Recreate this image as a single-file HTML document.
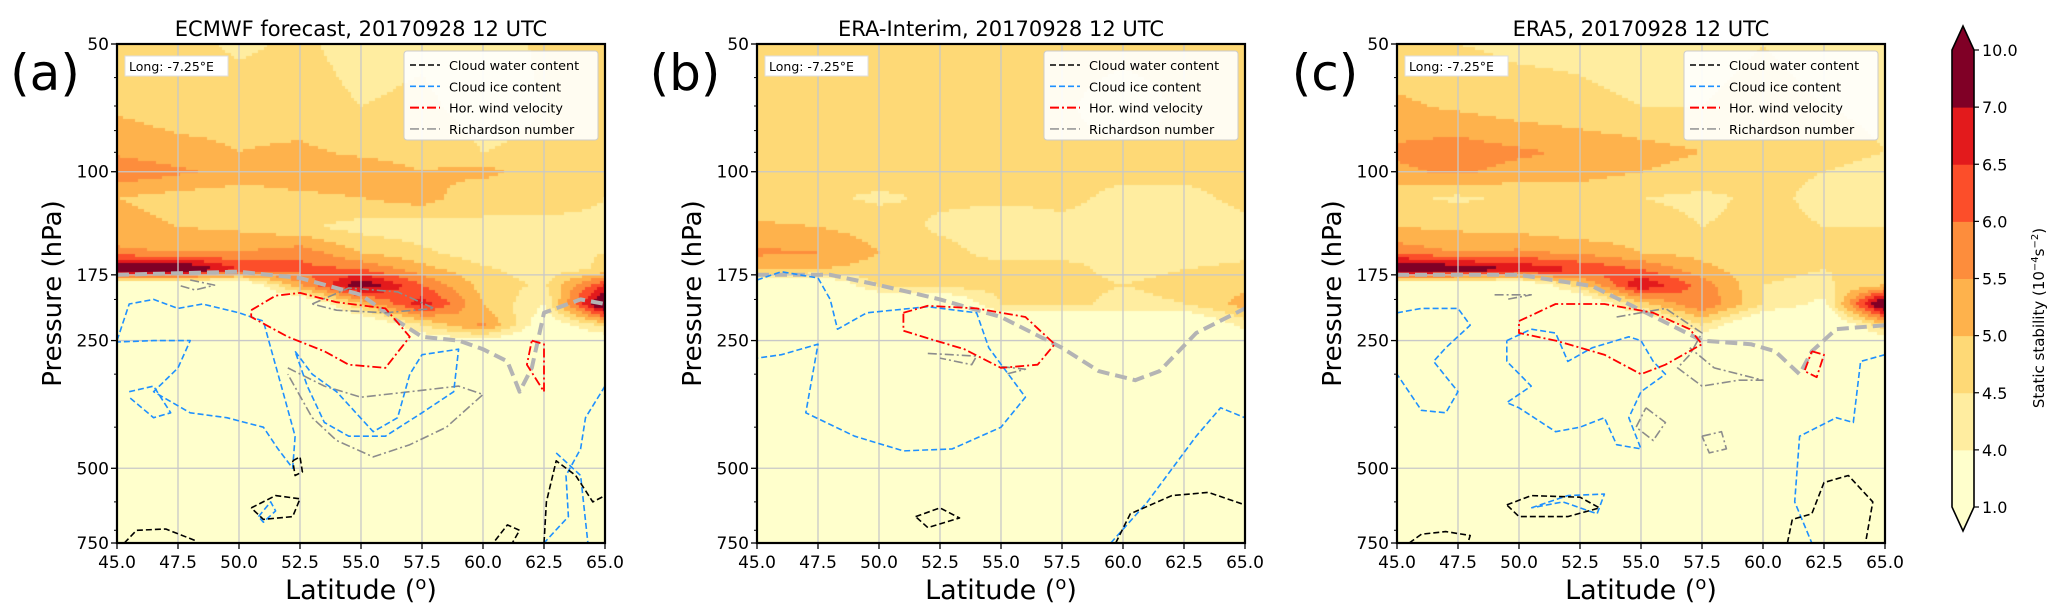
<!DOCTYPE html>
<html><head><meta charset="utf-8">
<style>
html,body{margin:0;padding:0;background:#fff;}
#fig{position:relative;width:2067px;height:607px;overflow:hidden;font-family:"DejaVu Sans","Liberation Sans",sans-serif;}
canvas{position:absolute;}
svg{position:absolute;left:0;top:0;font-family:"DejaVu Sans","Liberation Sans",sans-serif;}
</style></head>
<body>
<div id="fig">
<canvas id="fa"></canvas>
<canvas id="fb"></canvas>
<canvas id="fc"></canvas>
<svg id="svg" width="2067" height="607" xmlns="http://www.w3.org/2000/svg"></svg>
</div>
<script>
// ---- data ----
const lats = [45,47.5,50,52.5,55,57.5,60,62.5,65];
const levels = [50,70,90,100,115,135,155,170,185,205,230,260,750];
const fieldA = [
[4.6,4.7,4.4,4.6,4.3,4.4,4.2,4.6,4.7],
[4.9,4.7,4.8,4.7,4.5,4.6,4.3,4.5,4.8],
[5.4,5.2,5.0,5.1,4.9,4.8,4.5,4.6,4.8],
[5.9,5.6,5.3,5.3,5.3,5.0,5.2,4.6,4.8],
[5.0,4.8,4.7,4.9,5.0,5.3,4.5,4.8,4.5],
[5.2,5.0,4.9,4.6,4.3,4.2,4.5,4.3,4.4],
[5.6,5.5,5.5,5.8,5.0,4.6,4.2,4.4,4.5],
[8.0,8.0,6.5,6.2,6.0,5.2,4.6,4.2,4.6],
[3.0,3.0,3.0,5.4,7.5,6.0,4.8,4.4,6.5],
[3.0,3.0,3.0,3.0,5.0,6.8,5.0,4.0,8.0],
[3.0,3.0,3.0,3.0,3.0,4.5,5.6,3.5,4.6],
[3.0,3.0,3.0,3.0,3.0,3.0,3.0,3.0,3.0],
[3.0,3.0,3.0,3.0,3.0,3.0,3.0,3.0,3.0]];
const fieldB = [
[4.7,4.7,4.7,4.7,4.7,4.7,4.7,4.7,4.7],
[4.7,4.7,4.6,4.6,4.6,4.6,4.2,4.6,4.6],
[4.8,4.8,4.7,4.6,4.6,4.6,4.6,4.6,4.6],
[4.8,4.8,4.8,4.7,4.7,4.6,4.6,4.6,4.6],
[4.6,4.6,4.4,4.6,4.6,4.6,4.4,4.4,4.6],
[5.1,5.0,4.8,4.4,4.2,4.4,4.3,4.2,4.4],
[5.6,5.5,5.0,4.7,4.3,4.4,4.5,4.3,4.4],
[5.1,5.0,4.8,4.7,4.7,4.6,4.4,4.5,4.6],
[3.0,3.0,4.6,4.7,4.7,4.6,4.5,4.6,4.9],
[3.0,3.0,3.0,3.0,4.5,4.6,4.4,4.5,5.2],
[3.0,3.0,3.0,3.0,3.0,3.0,3.0,3.0,4.2],
[3.0,3.0,3.0,3.0,3.0,3.0,3.0,3.0,3.0],
[3.0,3.0,3.0,3.0,3.0,3.0,3.0,3.0,3.0]];
const fieldC = [
[4.6,4.5,4.4,4.4,4.3,4.4,4.5,4.4,4.3],
[5.1,4.9,4.7,4.6,4.5,4.5,4.6,4.5,4.4],
[5.6,5.8,5.6,5.4,5.2,5.0,4.8,4.7,4.5],
[5.4,5.6,5.3,5.2,5.0,4.8,4.6,4.5,4.3],
[4.6,4.4,4.6,4.7,4.5,4.4,4.6,4.4,4.4],
[5.0,4.9,4.8,4.6,4.7,4.5,4.6,4.5,4.5],
[5.8,5.5,5.6,5.4,5.0,4.8,4.6,4.7,4.6],
[8.0,7.5,7.0,6.5,6.0,5.2,4.6,4.5,4.6],
[3.0,3.0,3.0,4.8,7.0,5.8,4.5,4.4,5.0],
[3.0,3.0,3.0,3.0,4.8,6.0,4.5,3.8,8.0],
[3.0,3.0,3.0,3.0,3.0,4.5,3.0,3.0,4.8],
[3.0,3.0,3.0,3.0,3.0,3.0,3.0,3.0,3.0],
[3.0,3.0,3.0,3.0,3.0,3.0,3.0,3.0,3.0]];
const cbBounds = [1,4,4.5,5,5.5,6,6.5,7,10];
const cbColors = ["#ffffcc","#ffeda0","#fed976","#feb24c","#fd8d3c","#fc4e2a","#e31a1c","#c4001f"];
const cbExtendTop = "#800026";
const xTicks = [45,47.5,50,52.5,55,57.5,60,62.5,65];
const yTicks = [50,100,175,250,500,750];
const yMinor = [60,70,80,90,200,300,400,600,700];
const titles = ["ECMWF forecast, 20170928 12 UTC","ERA-Interim, 20170928 12 UTC","ERA5, 20170928 12 UTC"];
const panelLetters = ["(a)","(b)","(c)"];
// contours [lat, hPa]
const tropA = [[45,175],[50,172],[52.5,178],[55,195],[56.5,225],[57.5,245],[59,250],[60,262],[61,280],[61.5,330],[62,290],[62.5,215],[64,200],[65,205]];
const redA1 = [[50.5,212],[51.5,196],[52.5,193],[54,203],[56,210],[57,245],[56,290],[54.5,285],[53.5,265],[52,245],[50.5,220],[50.5,212]];
const redA2 = [[62,250],[62.5,255],[62.5,330],[61.8,285],[62,250]];
const iceA1 = [[45,250],[45.5,205],[46.5,200],[47.5,210],[48.5,205],[50,215],[51,225],[51.3,260],[51.8,330],[52.3,420],[52.2,500],[51.6,450],[51,400],[49.5,380],[48,370],[46.5,330],[47.5,290],[48,250],[46.5,250],[45,252]];
const iceA2 = [[52.3,265],[53,300],[54,330],[55.5,410],[56.5,380],[57,300],[57.5,270],[59,262],[58.8,330],[57.5,370],[56,420],[54.5,420],[53.5,390],[52.8,320],[52.3,265]];
const iceA3 = [[45.5,330],[46.5,320],[47.2,370],[46.5,380],[45.5,340]];
const iceA4 = [[63,460],[64,520],[64.3,750]];
const iceA5 = [[65,320],[64.2,380],[64,450],[63.4,520],[63.5,650],[62.5,750]];
const iceA6 = [[50.8,650],[51.3,600],[51.5,630],[51,670],[50.8,650]];
const riA1 = [[52,290],[53.5,320],[55,340],[57,330],[59,320],[60,335],[58.5,400],[57,440],[55.5,470],[54,430],[53,380],[52,300]];
const riA2 = [[53,205],[54.5,188],[56.5,192],[58,210],[56,215],[54,212],[53,205]];
const riA3 = [[48,180],[49,185],[48.2,190],[47.5,185]];
const blkA1 = [[50.5,620],[51.5,580],[52.5,590],[52.2,650],[51,660],[50.5,620]];
const blkA2 = [[45.3,750],[45.8,700],[47,695],[48.2,740]];
const blkA3 = [[62.5,750],[62.6,600],[63,480],[63.8,520],[64.5,600],[65,580]];
const blkA4 = [[60.5,740],[61,680],[61.5,700],[61.2,750]];
const blkA5 = [[52.2,480],[52.5,470],[52.6,510],[52.3,520],[52.2,480]];
const tropB = [[45,175],[48,175],[50,185],[52.5,200],[55,220],[57.5,260],[59,295],[60.5,310],[61.5,295],[63,240],[65,210]];
const redB1 = [[51,215],[52,207],[54,210],[56,220],[57.2,255],[56.5,285],[55,290],[53.5,262],[52,247],[51,237],[51,215]];
const iceB1 = [[45,180],[46,172],[47.5,178],[48,200],[48.3,235],[49.5,215],[52,208],[54,215],[54.5,260],[56,340],[55,400],[53,450],[51,455],[49,420],[47,370],[47.5,255],[46,270],[45,275]];
const iceB2 = [[59.5,750],[61,600],[63,420],[64,360],[65,380]];
const blkB1 = [[51.5,650],[52.5,620],[53.3,655],[52,690],[51.5,650]];
const blkB2 = [[59.7,750],[60.3,640],[62,580],[63.5,570],[65,610]];
const riB1 = [[52,268],[54,272],[53.8,285],[52.5,275]];
const riB2 = [[55,288],[56,292],[55.2,300]];
const tropC = [[45,175],[50,175],[53,186],[55,212],[57.5,250],[59.5,255],[60.5,265],[61.5,300],[62,265],[63,235],[65,230]];
const redC1 = [[50,225],[51.5,205],[53.5,205],[55.5,215],[57,235],[57.5,255],[56,285],[55,300],[53.5,270],[51.5,250],[50,240],[50,225]];
const redC2 = [[62,265],[62.5,270],[62.2,305],[61.7,295],[62,265]];
const iceC1 = [[45,215],[46,210],[47.5,210],[48,230],[47,260],[46.5,280],[47.5,330],[47,370],[46,365],[45,300]];
const iceC2 = [[49.5,250],[50.5,235],[51.5,240],[52,280],[53,260],[54.5,245],[55,250],[55.5,280],[56,300],[55,330],[54.5,380],[55,450],[54,440],[53.5,380],[52.5,400],[51.5,410],[50,360],[49.5,350],[50.5,320],[49.5,280],[49.5,250]];
const iceC3 = [[65,270],[64,280],[63.7,390],[63,380],[61.5,420],[61.3,600],[62,750]];
const iceC4 = [[50.5,620],[52,580],[53.5,575],[53.2,640],[51.8,600],[50.5,620]];
const blkC1 = [[45.5,750],[46,715],[47,705],[48,720],[47.9,750]];
const blkC2 = [[49.5,610],[50.5,580],[52.5,585],[53.3,620],[52,650],[50,650],[49.5,610]];
const blkC3 = [[61,750],[61.2,660],[62,640],[62.5,540],[63.5,520],[64.5,600],[64.2,750]];
const riC1 = [[54,220],[56,210],[57.5,240],[57,270],[56.5,290],[57.5,320],[59,310],[60,310],[58,290],[57,260]];
const riC2 = [[49,195],[50.5,195],[49.5,200]];
const riC3 = [[55.2,360],[56,390],[55.5,430],[54.8,400],[55.2,360]];
const riC4 = [[57.5,420],[58.3,410],[58.5,450],[57.8,460],[57.5,420]];

// ---- layout ----
const panels = [
 {x0:117, canvas:'fa', field:fieldA, trop:tropA, red:[redA1,redA2], ice:[iceA1,iceA2,iceA3,iceA4,iceA5,iceA6], ri:[riA1,riA2,riA3], blk:[blkA1,blkA2,blkA3,blkA4,blkA5]},
 {x0:757, canvas:'fb', field:fieldB, trop:tropB, red:[redB1], ice:[iceB1,iceB2], ri:[riB1,riB2], blk:[blkB1,blkB2]},
 {x0:1397, canvas:'fc', field:fieldC, trop:tropC, red:[redC1,redC2], ice:[iceC1,iceC2,iceC3,iceC4], ri:[riC1,riC2,riC3,riC4], blk:[blkC1,blkC2,blkC3]}
];
const PW=488, PT=44, PB=543;
const NS='http://www.w3.org/2000/svg';
const svg=document.getElementById('svg');
function el(tag, attrs, parent, text){
  const e=document.createElementNS(NS,tag);
  for(const k in attrs) e.setAttribute(k, attrs[k]);
  if(text!==undefined) e.textContent=text;
  (parent||svg).appendChild(e); return e;
}
function yOf(p){ return PT + (Math.log10(p)-Math.log10(50))/(Math.log10(750)-Math.log10(50))*(PB-PT); }
function colorFor(v){
  if(v>=7) return cbExtendTop;
  for(let i=cbBounds.length-2;i>=0;i--) if(v>=cbBounds[i]) return cbColors[i];
  return cbColors[0];
}
function sample(field, lat, p){
  let fi=(lat-45)/2.5; fi=Math.max(0,Math.min(lats.length-1.0001,fi));
  const i=Math.floor(fi), tx=fi-i;
  const lp=Math.log10(p);
  let j=0; while(j<levels.length-2 && Math.log10(levels[j+1])<lp) j++;
  let ty=(lp-Math.log10(levels[j]))/(Math.log10(levels[j+1])-Math.log10(levels[j])); ty=Math.max(0,Math.min(1,ty));
  const a=field[j][i],b=field[j][i+1],c=field[j+1][i],d=field[j+1][i+1];
  return (a*(1-tx)+b*tx)*(1-ty)+(c*(1-tx)+d*tx)*ty;
}
panels.forEach((P,k)=>{
  const cv=document.getElementById(P.canvas);
  cv.width=PW; cv.height=PB-PT; cv.style.left=P.x0+'px'; cv.style.top=PT+'px';
  const ctx=cv.getContext('2d');
  const step=3;
  for(let y=0;y<PB-PT;y+=step){
    const p=50*Math.pow(750/50,(y+step/2)/(PB-PT));
    for(let x=0;x<PW;x+=step){
      const lat=45+20*(x+step/2)/PW;
      ctx.fillStyle=colorFor(sample(P.field,lat,p));
      ctx.fillRect(x,y,step,step);
    }
  }
  const xOf=lat=>P.x0+(lat-45)/20*PW;
  const g=el('g',{},svg);  
  xTicks.forEach(t=>{ const l=el('line',{x1:xOf(t),x2:xOf(t),y1:PT,y2:PB,stroke:'#c8c8c8','stroke-width':1.3},g);  });
  yTicks.forEach(t=>{ const l=el('line',{x1:P.x0,x2:P.x0+PW,y1:yOf(t),y2:yOf(t),stroke:'#c8c8c8','stroke-width':1.3},g);  });
  const path=(pts,attrs,name)=>{ const d=pts.map((q,i)=>(i?'L':'M')+xOf(q[0]).toFixed(1)+' '+yOf(q[1]).toFixed(1)).join(''); const e=el('path',Object.assign({d:d,fill:'none','stroke-linejoin':'round'},attrs),g);   };
  path(P.trop,{stroke:'#b4b4b4','stroke-width':4,'stroke-dasharray':'12 6'},'tropopause-line');
  P.ri.forEach(c=>path(c,{stroke:'#8c8c8c','stroke-width':1.6,'stroke-dasharray':'9 3 2 3'},'richardson-contour'));
  P.ice.forEach(c=>path(c,{stroke:'#1e90ff','stroke-width':1.6,'stroke-dasharray':'6 3'},'cloud-ice-contour'));
  P.red.forEach(c=>path(c,{stroke:'#ff0000','stroke-width':1.8,'stroke-dasharray':'9 3 2 3'},'wind-contour'));
  P.blk.forEach(c=>path(c,{stroke:'#000','stroke-width':1.6,'stroke-dasharray':'6 3'},'cloud-water-contour'));
  const fr=el('rect',{x:P.x0,y:PT,width:PW,height:PB-PT,fill:'none',stroke:'#000','stroke-width':2.2},g);  
  xTicks.forEach(t=>{ el('line',{x1:xOf(t),x2:xOf(t),y1:PB,y2:PB+6,stroke:'#000','stroke-width':1.3},g); const tx=el('text',{x:xOf(t),y:PB+25,'font-size':17,'text-anchor':'middle',fill:'#000'},g,t.toFixed(1));  });
  yTicks.forEach(t=>{ el('line',{x1:P.x0-6,x2:P.x0,y1:yOf(t),y2:yOf(t),stroke:'#000','stroke-width':1.3},g); const tx=el('text',{x:P.x0-8,y:yOf(t)+6,'font-size':17,'text-anchor':'end',fill:'#000'},g,String(t));  });
  yMinor.forEach(t=>el('line',{x1:P.x0-3,x2:P.x0,y1:yOf(t),y2:yOf(t),stroke:'#000','stroke-width':1},g));
  const xl=el('text',{x:P.x0+PW/2,y:599,'font-size':27,'text-anchor':'middle',fill:'#000'},g);  
  xl.innerHTML='Latitude (<tspan dy="-10" font-size="18">o</tspan><tspan dy="10">)</tspan>';
  const yl=el('text',{x:0,y:0,'font-size':26,'text-anchor':'middle',fill:'#000',transform:`translate(${P.x0-56},${(PT+PB)/2}) rotate(-90)`},g,'Pressure (hPa)');  
  const tt=el('text',{x:P.x0+PW/2,y:36,'font-size':21,'text-anchor':'middle',fill:'#000'},g,titles[k]);  
  const pl=el('text',{x:P.x0-72,y:90,'font-size':50,'text-anchor':'middle',fill:'#000'},g,panelLetters[k]);  
  const lb=el('g',{},g);  
  el('rect',{x:P.x0+8,y:PT+12,width:103,height:20,fill:'#fff',stroke:'#ddd'},lb);
  el('text',{x:P.x0+12,y:PT+27,'font-size':12.5,fill:'#000'},lb,'Long: -7.25°E');
  const lg=el('g',{},g);  
  const lx=P.x0+287, ly=PT+7;
  el('rect',{x:lx,y:ly,width:194,height:89,fill:'#fff','fill-opacity':0.9,stroke:'#ccc',rx:3},lg);
  const ents=[['Cloud water content','#000','6 3',1.6],['Cloud ice content','#1e90ff','6 3',1.6],['Hor. wind velocity','#ff0000','9 3 2 3',2],['Richardson number','#999','9 3 2 3',1.6]];
  ents.forEach((e,i)=>{ const yy=ly+14+i*21.3; const eg=el('g',{},lg);  
    el('line',{x1:lx+6,x2:lx+36,y1:yy,y2:yy,stroke:e[1],'stroke-width':e[3],'stroke-dasharray':e[2]},eg);
    el('text',{x:lx+45,y:yy+5,'font-size':12.8,fill:'#000'},eg,e[0]); });
});
// colorbar
const cbx=1952, cbw=22, cbTop=50, cbBot=507;
const cg=el('g',{});  
const n=cbColors.length, seg=(cbBot-cbTop)/n;
for(let i=0;i<n;i++){
  const c = i===n-1 ? cbExtendTop : cbColors[i];
  const r=el('rect',{x:cbx,y:cbBot-(i+1)*seg,width:cbw,height:seg+0.5,fill:c},cg);  
}
el('polygon',{points:`${cbx},${cbTop} ${cbx+cbw/2},${cbTop-24} ${cbx+cbw},${cbTop}`,fill:cbExtendTop},cg);
el('polygon',{points:`${cbx},${cbBot} ${cbx+cbw/2},${cbBot+24} ${cbx+cbw},${cbBot}`,fill:cbColors[0]},cg);
el('path',{d:`M${cbx},${cbTop}L${cbx+cbw/2},${cbTop-24}L${cbx+cbw},${cbTop}L${cbx+cbw},${cbBot}L${cbx+cbw/2},${cbBot+24}L${cbx},${cbBot}Z`,fill:'none',stroke:'#000','stroke-width':1.6},cg);
const cbLabels=[1.0,4.0,4.5,5.0,5.5,6.0,6.5,7.0,10.0];
cbLabels.forEach((v,i)=>{ const y=cbBot-i*seg; el('line',{x1:cbx+cbw,x2:cbx+cbw+5,y1:y,y2:y,stroke:'#000','stroke-width':1.2},cg); const t=el('text',{x:cbx+cbw+8,y:y+6,'font-size':16,fill:'#000'},cg,v.toFixed(1));  });
const ct=el('text',{x:0,y:0,'font-size':15,'text-anchor':'middle',fill:'#000',transform:'translate(2044,318) rotate(-90)'},cg);  
ct.innerHTML='Static stability (10<tspan dy="-6" font-size="10">−4</tspan><tspan dy="6">s</tspan><tspan dy="-6" font-size="10">−2</tspan><tspan dy="6">)</tspan>';
</script>
</body></html>
